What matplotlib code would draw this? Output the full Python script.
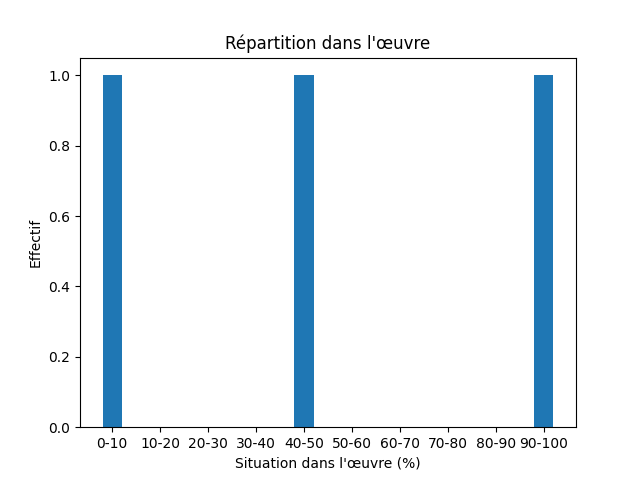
import matplotlib
matplotlib.use("Agg")
import matplotlib.pyplot as plt

categories = ["0-10", "10-20", "20-30", "30-40", "40-50", "50-60", "60-70", "70-80", "80-90", "90-100"]
centers = [5, 15, 25, 35, 45, 55, 65, 75, 85, 95]
counts = [1, 0, 0, 0, 1, 0, 0, 0, 0, 1]

fig, ax = plt.subplots(figsize=(6.4, 4.8), dpi=100)
ax.bar(centers, counts, width=4, color="#1f77b4")
ax.set_xticks(centers)
ax.set_xticklabels(categories)
ax.set_title("Répartition dans l'œuvre")
ax.set_xlabel("Situation dans l'œuvre (%)")
ax.set_ylabel("Effectif")
fig.savefig("out.png", dpi=100)
